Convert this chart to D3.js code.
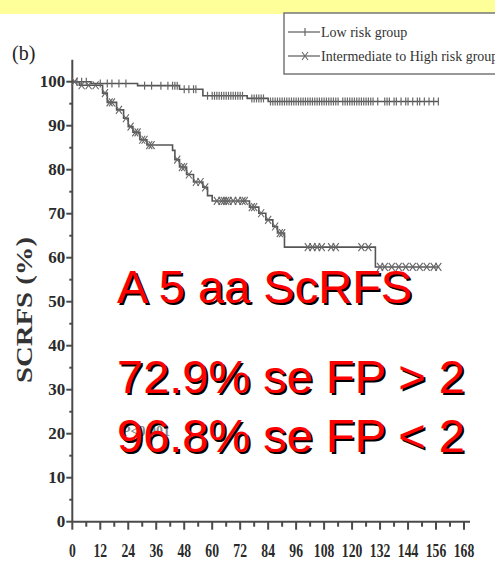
<!DOCTYPE html>
<html>
<head>
<meta charset="utf-8">
<script src="https://cdn.jsdelivr.net/npm/d3@7"></script>
<style>
  html, body { margin: 0; padding: 0; background: #fff; }
  svg { display: block; }
</style>
</head>
<body>
<svg id="chart" width="495" height="562"></svg>
<script>
// Kaplan–Meier step curves (months, survival %)
const lowTimes = [0, 8, 28, 46, 56, 75, 84, 157];
const lowSurv  = [100, 99.6, 99.1, 98.3, 96.8, 96.2, 95.5, 95.5];
const lowCensor = [2, 4, 6, 12, 15, 17, 20, 23, 31, 34, 38, 41, 43, 44, 45, 48, 50, 52, 53, 58, 60, 61, 62, 63, 64, 65, 66, 67, 68, 69, 70, 71, 72, 73, 77, 78, 79, 80, 81, 82, 85, 86, 87, 88, 89, 90, 91, 92, 93, 94, 95, 96, 97, 98, 99, 100, 101, 102, 103, 104, 105, 106, 107, 108, 109, 110, 111, 112, 113, 114, 116, 117, 118, 119, 120, 121, 122, 123, 124, 125, 126, 127, 128, 129, 131, 134, 135, 136, 138, 139, 141, 143, 144, 146, 148, 149, 151, 153, 155, 157];

const ihTimes = [0, 3, 13, 15, 19, 22, 24, 26, 29, 32, 43, 44, 46, 49, 52, 56, 58, 60, 76, 80, 83, 86, 88, 91, 130, 157];
const ihSurv  = [100, 99.2, 97.4, 95.3, 93.6, 91.7, 89.8, 88.5, 86.8, 85.6, 84.4, 82.3, 80.6, 78.9, 77.2, 76.0, 74.1, 72.9, 71.5, 70.1, 68.6, 67.1, 65.6, 62.4, 57.9, 57.9];
const ihCensor = [1, 4, 7, 10, 14, 16, 17, 20, 23, 25, 27, 28, 30, 31, 33, 34, 45, 47, 48, 50, 53, 55, 57, 62, 64, 65, 66, 67, 69, 71, 73, 74, 77, 78, 81, 84, 87, 89, 90, 101, 103, 105, 107, 111, 113, 124, 127, 132, 134, 137, 140, 143, 146, 149, 152, 155, 157];

const yTicks = [0, 10, 20, 30, 40, 50, 60, 70, 80, 90, 100];
const xTicks = [0, 12, 24, 36, 48, 60, 72, 84, 96, 108, 120, 132, 144, 156, 168];

const legendLabels = ["Low risk group", "Intermediate to High risk group"];
const noteLines = ["A 5 aa ScRFS", "72.9% se FP > 2", "96.8% se FP < 2"];

const svg = d3.select("#chart");
const ink = "#4a4a4a";

// top band
svg.append("rect").attr("x", 0).attr("y", 0).attr("width", 495).attr("height", 14).attr("fill", "#ffff99");

const x = d3.scaleLinear().domain([0, 168]).range([72.3, 464]);
const y = d3.scaleLinear().domain([0, 100]).range([521.7, 81.7]);

// panel tag
svg.append("text").attr("x", 12).attr("y", 60).text("(b)")
  .attr("font-family", "Liberation Serif, serif").attr("font-size", 20).attr("fill", "#222");

// y axis
const yAxis = svg.append("g");
yAxis.append("line").attr("x1", x(0)).attr("x2", x(0)).attr("y1", y(105)).attr("y2", y(0))
  .attr("stroke", ink).attr("stroke-width", 2);
d3.range(0, 101, 5).forEach(v => {
  const major = v % 10 === 0;
  yAxis.append("line").attr("x1", x(0) - (major ? 6 : 3)).attr("x2", x(0))
    .attr("y1", y(v)).attr("y2", y(v)).attr("stroke", ink).attr("stroke-width", 2);
});
yAxis.selectAll("text.yt").data(yTicks).join("text").attr("class", "yt")
  .attr("x", x(0) - 7).attr("y", d => y(d) + 5.5).attr("text-anchor", "end")
  .attr("font-family", "Liberation Serif, serif").attr("font-weight", "bold").attr("font-size", 17)
  .attr("fill", "#2a2a2a").text(d => d);

// x axis
const xAxis = svg.append("g");
xAxis.append("line").attr("x1", x(0)).attr("x2", 470).attr("y1", y(0)).attr("y2", y(0))
  .attr("stroke", ink).attr("stroke-width", 2);
d3.range(0, 169, 6).forEach(t => {
  const major = t % 12 === 0;
  xAxis.append("line").attr("x1", x(t)).attr("x2", x(t))
    .attr("y1", y(0)).attr("y2", y(0) + (major ? 8 : 5)).attr("stroke", ink).attr("stroke-width", 2);
});
xAxis.selectAll("text.xt").data(xTicks).join("text").attr("class", "xt")
  .attr("transform", d => `translate(${x(d)},557) scale(0.72,1)`)
  .attr("text-anchor", "middle")
  .attr("font-family", "Liberation Serif, serif").attr("font-weight", "bold").attr("font-size", 19)
  .attr("fill", "#2a2a2a").text(d => d);

// y axis title
svg.append("text").attr("transform", "translate(32,310) rotate(-90)")
  .attr("text-anchor", "middle").attr("textLength", 146).attr("lengthAdjust", "spacingAndGlyphs")
  .attr("font-family", "Liberation Serif, serif").attr("font-weight", "bold").attr("font-size", 24)
  .attr("fill", "#333").text("SCRFS (%)");

// survival curves
function stepValue(times, surv, t) {
  const i = d3.bisectRight(times, t) - 1;
  return surv[Math.max(0, i)];
}
const line = d3.line().x(d => x(d[0])).y(d => y(d[1])).curve(d3.curveStepAfter);

const curves = svg.append("g");
curves.append("path").datum(d3.zip(lowTimes, lowSurv)).attr("d", line)
  .attr("fill", "none").attr("stroke", "#555").attr("stroke-width", 1.6);
curves.append("path").datum(d3.zip(ihTimes, ihSurv)).attr("d", line)
  .attr("fill", "none").attr("stroke", "#555").attr("stroke-width", 1.6);

// censoring marks: "+" ticks for low risk, "x" for intermediate/high
curves.selectAll("line.lc").data(lowCensor).join("line").attr("class", "lc")
  .attr("x1", d => x(d)).attr("x2", d => x(d))
  .attr("y1", d => y(stepValue(lowTimes, lowSurv, d)) - 4)
  .attr("y2", d => y(stepValue(lowTimes, lowSurv, d)) + 4)
  .attr("stroke", "#666").attr("stroke-width", 1.2);

const ihMarks = curves.selectAll("g.ic").data(ihCensor).join("g").attr("class", "ic")
  .attr("transform", d => `translate(${x(d)},${y(stepValue(ihTimes, ihSurv, d))})`);
ihMarks.append("path").attr("d", "M-3,-4L3,4M-3,4L3,-4")
  .attr("stroke", "#666").attr("stroke-width", 1.1).attr("fill", "none");

// legend
const lg = svg.append("g");
lg.append("rect").attr("x", 284).attr("y", 13).attr("width", 230).attr("height", 61)
  .attr("fill", "#fff").attr("stroke", "#777").attr("stroke-width", 1.5);
const rowsY = [32, 56];
legendLabels.forEach((lab, i) => {
  lg.append("line").attr("x1", 288).attr("x2", 320).attr("y1", rowsY[i]).attr("y2", rowsY[i])
    .attr("stroke", "#666").attr("stroke-width", 1.3);
  if (i === 0) {
    lg.append("line").attr("x1", 305).attr("x2", 305).attr("y1", rowsY[i] - 4).attr("y2", rowsY[i] + 4)
      .attr("stroke", "#666").attr("stroke-width", 1.2);
  } else {
    lg.append("path").attr("d", `M302,${rowsY[i] - 4}L308,${rowsY[i] + 4}M302,${rowsY[i] + 4}L308,${rowsY[i] - 4}`)
      .attr("stroke", "#666").attr("stroke-width", 1.1);
  }
  lg.append("text").attr("x", 321).attr("y", rowsY[i] + 5)
    .attr("font-family", "Liberation Serif, serif").attr("font-size", 14).attr("fill", "#333").text(lab);
});

// faint p-value beneath the annotation
svg.append("text").attr("x", 122).attr("y", 436)
  .attr("font-family", "Liberation Serif, serif").attr("font-weight", "bold").attr("font-size", 14)
  .attr("fill", "#888").text("P<0.001");

// annotation in red with a dark drop shadow
const noteY = [303, 393, 452];
const notes = svg.append("g").attr("font-family", "Liberation Sans, Arial, sans-serif").attr("font-size", 47);
noteLines.forEach((t, i) => {
  notes.append("text").attr("x", 119).attr("y", noteY[i] + 2).attr("fill", "#000").text(t);
  notes.append("text").attr("x", 117).attr("y", noteY[i]).attr("fill", "#ff0000").text(t);
});
</script>
</body>
</html>
